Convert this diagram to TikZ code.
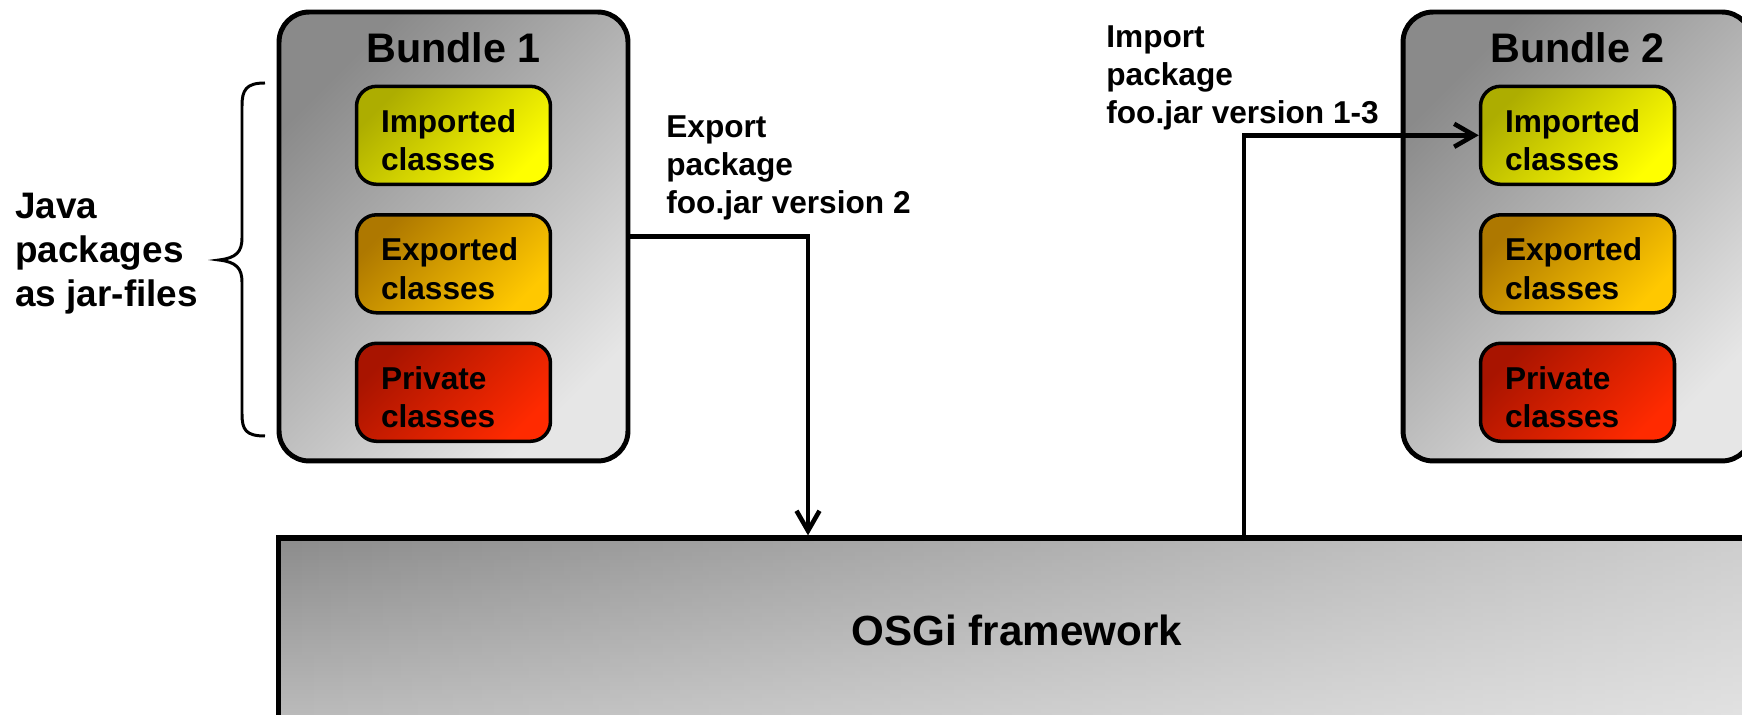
\documentclass[tikz,border=0pt]{standalone}
\usepackage{fontspec}
\setmainfont{Liberation Sans}
\usetikzlibrary{positioning,arrows.meta,fadings}
\definecolor{graydark}{HTML}{8A8A8A}
\definecolor{graylight}{HTML}{E6E6E6}
\definecolor{fwtop}{HTML}{8C8C8C}
\definecolor{fwbottom}{HTML}{BCBCBC}
\definecolor{impdark}{HTML}{ADAD00}
\definecolor{implight}{HTML}{FFFF00}
\definecolor{expdark}{HTML}{AE7800}
\definecolor{explight}{HTML}{FFC800}
\definecolor{privdark}{HTML}{A81400}
\definecolor{privlight}{HTML}{FF2A00}
\tikzfading[name=fwfade, left color=transparent!100, right color=transparent!0]

\begin{document}
\begin{tikzpicture}[x=0.02cm, y=-0.02cm,
  bundle/.style={draw, line width=2.8pt, rounded corners=0.6cm, minimum width=6.98cm, minimum height=8.98cm,
    top color=graydark, bottom color=graylight, shading angle=45},
  head/.style={inner sep=0pt, font=\bfseries\fontsize{23.5}{28}\selectfont},
  cls/.style={draw, line width=2pt, rounded corners=0.4cm, minimum width=3.88cm, minimum height=1.96cm,
    text width=2.9cm, text height=0.66cm, align=left, inner sep=0pt, font=\bfseries\fontsize{18}{22}\selectfont},
  imp/.style={top color=impdark, bottom color=implight, shading angle=45},
  exp/.style={top color=expdark, bottom color=explight, shading angle=45},
  priv/.style={top color=privdark, bottom color=privlight, shading angle=45},
  lbl/.style={anchor=north west, align=left, inner sep=0pt, font=\bfseries\fontsize{18}{21.8}\selectfont},
  conn/.style={line width=2.6pt, -{Straight Barb[length=4mm,width=4.6mm]}}]

  \useasboundingbox (0,0) rectangle (1742,715);
  \clip (0,0) rectangle (1742,715);

  % framework
  \node[draw, line width=3pt, minimum width=29.56cm, minimum height=3.68cm, top color=fwtop, bottom color=fwbottom,
    path picture={\fill[white, fill opacity=0.58, path fading=fwfade]
      (path picture bounding box.north west) rectangle (path picture bounding box.south east);},
    font=\bfseries\fontsize{24}{29}\selectfont] at (1017,630) (fw) {OSGi framework};

  % bundle 1
  \node[bundle] at (453.5,236.5) (b1) {};
  \node[head, below=0.46cm of b1.north] (b1h) {Bundle 1};
  \node[cls, imp, below=1.5cm of b1.north] (i1) {Imported\\classes};
  \node[cls, exp, below=0.54cm of i1] (e1) {Exported\\classes};
  \node[cls, priv, below=0.54cm of e1] (p1) {Private\\classes};

  % bundle 2
  \node[bundle] at (1577.5,236.5) (b2) {};
  \node[head, below=0.46cm of b2.north] (b2h) {Bundle 2};
  \node[cls, imp, below=1.5cm of b2.north] (i2) {Imported\\classes};
  \node[cls, exp, below=0.54cm of i2] (e2) {Exported\\classes};
  \node[cls, priv, below=0.54cm of e2] (p2) {Private\\classes};

  % brace and texts
  \draw[line width=1.7pt] (265,83) .. controls (246,83) and (242,90) .. (242,106) -- (242,238)
    .. controls (242,252) and (236,258) .. (219,260) .. controls (236,262) and (242,268) .. (242,282)
    -- (242,414) .. controls (242,430) and (246,436) .. (265,436);
  \node[lbl, font=\bfseries\fontsize{21}{25}\selectfont] at (15,193) (java) {Java\\packages\\as jar-files};
  \node[lbl] at (666,115) (expl) {Export\\package\\foo.jar version 2};
  \node[lbl] at (1106,25) (impl) {Import\\package\\foo.jar version 1-3};

  \coordinate (expx) at (808,0);
  \coordinate (impx) at (1244,0);
  \draw[conn] (b1.east) -| (expx |- fw.north);
  \draw[conn] (impx |- fw.north) |- (i2.west);
\end{tikzpicture}
\end{document}
